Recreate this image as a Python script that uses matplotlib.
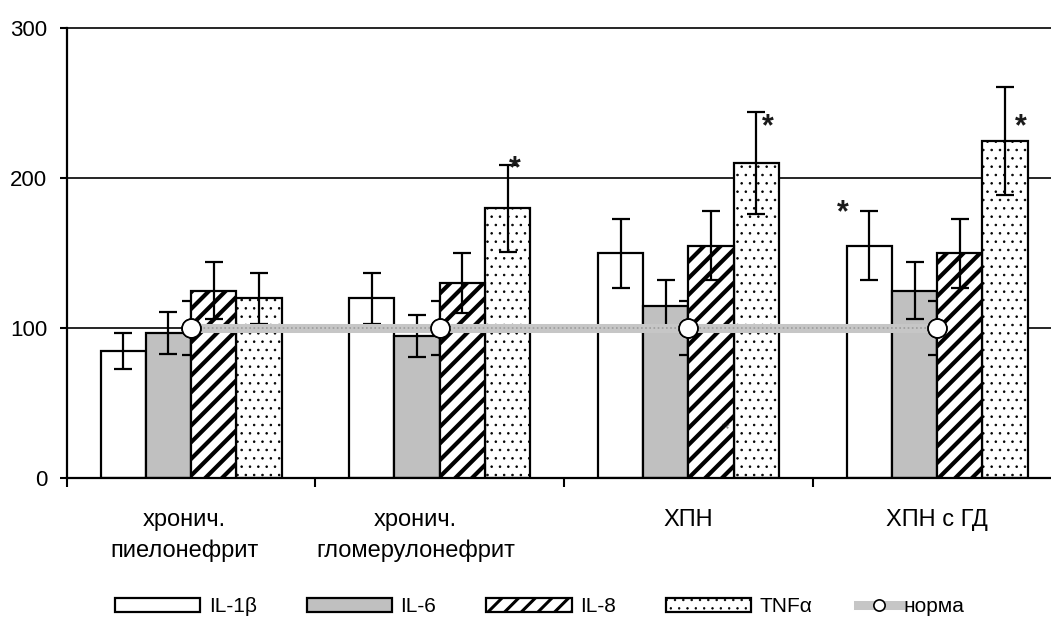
# cytokine levels by group vs norm - bar chart with error bars
import matplotlib
matplotlib.use('Agg')
import matplotlib.pyplot as plt
import matplotlib.transforms as mtransforms
import numpy as np

plt.rcParams['font.family'] = ['Liberation Sans', 'DejaVu Sans']

# data
groups = ['хронич.\nпиелонефрит', 'хронич.\nгломерулонефрит', 'ХПН', 'ХПН с ГД']
seriesNames = ['IL-1β', 'IL-6', 'IL-8', 'TNFα']

il1b = [85, 120, 150, 155]
il1bErr = [12, 17, 23, 23]
il6 = [97, 95, 115, 125]
il6Err = [14, 14, 17, 19]
il8 = [125, 130, 155, 150]
il8Err = [19, 20, 23, 23]
tnfa = [120, 180, 210, 225]
tnfaErr = [17, 29, 34, 36]

norma = [100, 100, 100, 100]
normaErr = [18, 18, 18, 18]

# significance stars: group index, series index, y value
starGroup = [1, 2, 3, 3, 2]
starSeries = [3, 3, 3, 0, 2]
starValue = [212, 240, 240, 183, 37]

# styles
barWidth = 0.182
faces = ['white', '#c0c0c0', 'white', 'white']
hatches = [None, None, '//', '..']
hatchWidths = [1.0, 1.0, 3.0, 0.6]
legendHatchWidths = [1.0, 1.0, 2.2, 0.5]
barZ = [2, 2, 3, 2]
starShift = [0.03, 0.046, 0.062, -0.106, 0.058]
starSize = [22, 22, 22, 22, 14]
starAlpha = [1, 1, 1, 1, 0.45]
labelShiftPx = [-7, -24, 0, 0]

fig = plt.figure(figsize=(10.51, 6.21), dpi=100)
ax = fig.add_axes([66.7 / 1051, 143 / 621, (1061.5 - 66.7) / 1051, 450 / 621])

x = np.arange(len(groups))
allValues = [il1b, il6, il8, tnfa]
allErrors = [il1bErr, il6Err, il8Err, tnfaErr]

bars = []
for i in range(4):
    plt.rcParams['hatch.linewidth'] = hatchWidths[i]
    pos = x + (i - 1.5) * barWidth
    b = ax.bar(pos, allValues[i], width=barWidth, color=faces[i], edgecolor='black',
               linewidth=1.6, hatch=hatches[i], label=seriesNames[i], zorder=barZ[i])
    for p in b:
        if hasattr(p, 'set_hatch_linewidth'):
            p.set_hatch_linewidth(hatchWidths[i])
    bars.append(b)
    ax.errorbar(pos, allValues[i], yerr=allErrors[i], fmt='none', ecolor='black',
                elinewidth=1.6, capsize=6.5, capthick=1.6, zorder=3.5)

# norm line with its own error bars (partly hidden behind IL-8)
ax.errorbar(x, norma, yerr=normaErr, fmt='none', ecolor='black',
            elinewidth=1.6, capsize=6.5, capthick=1.6, zorder=2.5)
normLine, = ax.plot(x, norma, color='#c6c6c6', lw=6.5, marker='o', mfc='white',
                    mec='black', mew=1.2, ms=13.5, label='норма', zorder=4)
# dotted texture on the norm line
ax.plot(x, norma, color='#9c9c9c', lw=1.2, ls=(0, (1, 1.5)), zorder=4.1)
ax.plot(x, norma, ls='none', marker='o', mfc='white', mec='black', mew=1.2,
        ms=13.5, zorder=4.2)

# stars
for k in range(len(starGroup)):
    sx = x[starGroup[k]] + (starSeries[k] - 1.5) * barWidth + starShift[k]
    ax.annotate('*', (sx, starValue[k]), xytext=(0, -0.57 * starSize[k]),
                textcoords='offset points', fontsize=starSize[k], fontweight='bold',
                ha='center', va='baseline', color='#1a1a1a', alpha=starAlpha[k],
                zorder=6)

# axes
ax.set_xlim(-0.5, 3.5)
ax.set_ylim(0, 300)
ax.set_yticks([0, 100, 200, 300])
ax.yaxis.grid(True, color='black', lw=1.2)
ax.set_axisbelow(True)
for gl in ax.get_ygridlines():
    gl.set_clip_on(False)

ax.set_xticks(x)
ax.set_xticklabels(groups, fontsize=17, linespacing=1.5)
ax.set_xticks(np.arange(-0.5, 4, 1), minor=True)
ax.tick_params(axis='x', which='major', length=0, pad=22)
ax.tick_params(axis='x', which='minor', length=6.5, width=1.5, direction='out')
ax.tick_params(axis='y', length=5, width=1.5, pad=9, labelsize=16)

# small horizontal nudges of the category labels
for lab, s in zip(ax.get_xticklabels(), labelShiftPx):
    lab.set_transform(lab.get_transform() +
                      mtransforms.ScaledTranslation(s / 100, 0, fig.dpi_scale_trans))

ax.spines['top'].set_visible(False)
ax.spines['right'].set_visible(False)
ax.spines['left'].set_linewidth(1.6)
ax.spines['bottom'].set_linewidth(1.6)

# legends at the bottom
leg = fig.legend(handles=bars, labels=seriesNames, ncol=4, loc='center left',
                 bbox_to_anchor=(115 / 1051, 1 - 607 / 621), frameon=False, fontsize=15,
                 handlelength=4.1, handleheight=0.63, handletextpad=0.4,
                 columnspacing=2.4, borderpad=0, borderaxespad=0)
for h, w in zip(leg.legend_handles, legendHatchWidths):
    if hasattr(h, 'set_hatch_linewidth'):
        h.set_hatch_linewidth(w)
fig.legend(handles=[normLine], labels=['норма'], loc='center left',
           bbox_to_anchor=(858 / 1051, 1 - 607 / 621), frameon=False, fontsize=15,
           handlelength=2.0, handletextpad=0.2, markerscale=0.6,
           borderpad=0, borderaxespad=0)

plt.savefig('out.png', dpi=100)
